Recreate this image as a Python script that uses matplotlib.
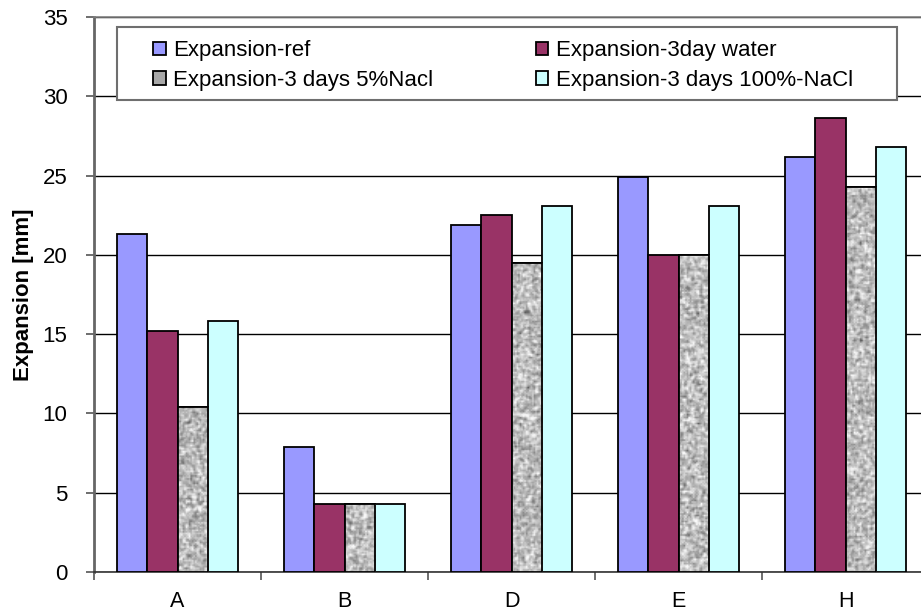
import numpy as np
import matplotlib
matplotlib.use("Agg")
import matplotlib.pyplot as plt
from matplotlib.patches import Rectangle

plt.rcParams["font.family"] = ["Liberation Sans", "DejaVu Sans"]

samples = ["A", "B", "D", "E", "H"]
ref = [21.3, 7.9, 21.9, 24.9, 26.2]
water = [15.2, 4.3, 22.5, 20.0, 28.6]
nacl5 = [10.4, 4.3, 19.5, 20.0, 24.3]
nacl100 = [15.85, 4.3, 23.1, 23.1, 26.8]
labels = ["Expansion-ref", "Expansion-3day water",
          "Expansion-3 days 5%Nacl", "Expansion-3 days 100%-NaCl"]

W, H = 921, 615
fig = plt.figure(figsize=(W / 100, H / 100), dpi=100)
# plot area runs past the right edge of the canvas
ax = fig.add_axes([94 / W, (H - 572) / H, 835 / W, 555 / H])

x = np.arange(len(samples))
bw = 1 / 5.5
offs = (np.arange(4) - 1.5) * bw
ec = dict(edgecolor="black", linewidth=1.3)

b_ref = ax.bar(x + offs[0], ref, bw, color="#9999FF", zorder=3, **ec)
b_wat = ax.bar(x + offs[1], water, bw, color="#993366", zorder=3, **ec)
b_5 = ax.bar(x + offs[2], nacl5, bw, color="#a8a8a8", zorder=3, **ec)
b_100 = ax.bar(x + offs[3], nacl100, bw, color="#CCFFFF", zorder=3, **ec)

# granite-like fill for the 5% NaCl bars, roughly one cell per 1.5 px
rng = np.random.default_rng(7)
px_per_unit = 555 / 35
for p in b_5:
    x0, w_, h_ = p.get_x(), p.get_width(), p.get_height()
    nr, nc = max(int(h_ * px_per_unit / 1.5), 2), 20
    noise = rng.normal(0, 1, (nr + 2, nc + 2))
    noise = (noise[1:-1, 1:-1] * 2 + noise[:-2, 1:-1] + noise[2:, 1:-1]
             + noise[1:-1, :-2] + noise[1:-1, 2:]) / 6
    tex = np.clip(0.74 + 0.22 * noise, 0.3, 0.97)
    im = ax.imshow(tex, cmap="gray", vmin=0, vmax=1, aspect="auto",
                   extent=(x0, x0 + w_, 0, h_), interpolation="bilinear", zorder=3.5)
    im.set_clip_path(p)
    ax.add_patch(Rectangle((x0, 0), w_, h_, fill=False, zorder=4, **ec))

ax.set_xlim(-0.5, 4.5)
ax.set_ylim(0, 35)
ax.set_yticks(np.arange(0, 36, 5))
ax.yaxis.grid(True, color="black", linewidth=1.0, zorder=1)
ax.set_axisbelow(True)

ax.set_xticks(np.arange(-0.5, 5, 1))
ax.set_xticklabels([])
ax.set_xticks(x, minor=True)
ax.set_xticklabels(samples, minor=True)
ax.tick_params(axis="x", which="major", direction="out", length=6, width=1.2, color="#555555")
ax.tick_params(axis="x", which="minor", length=0, pad=14, labelsize=15.5)
ax.tick_params(axis="y", direction="out", length=6, width=1.2, color="#555555", pad=13, labelsize=16)

ax.spines["left"].set_color("#666666")
ax.spines["left"].set_linewidth(2)
ax.spines["bottom"].set_color("#333333")
ax.spines["bottom"].set_linewidth(1.2)
ax.spines["top"].set_color("#808080")
ax.spines["top"].set_linewidth(1.2)
ax.spines["right"].set_visible(False)

ax.set_ylabel("Expansion [mm]", fontsize=16, fontweight="bold")
ax.yaxis.set_label_coords(-0.072, 0.5)

# legend box
fig.patches.append(Rectangle((117 / W, (H - 100) / H), 780 / W, 73 / H,
                             transform=fig.transFigure, facecolor="white",
                             edgecolor="#6f6f6f", linewidth=1.5, zorder=5))
handles = [b_ref, b_5, b_wat, b_100]
leg = fig.legend(handles, [labels[0], labels[2], labels[1], labels[3]], ncol=2,
                 loc="upper left", bbox_to_anchor=(140 / W, (H - 27) / H),
                 frameon=False, fontsize=16, handlelength=0.55, handleheight=0.55,
                 handletextpad=0.35, labelspacing=0.38, columnspacing=4.6,
                 borderpad=0.1)
leg.set_zorder(6)

fig.savefig("out.png", dpi=100)
